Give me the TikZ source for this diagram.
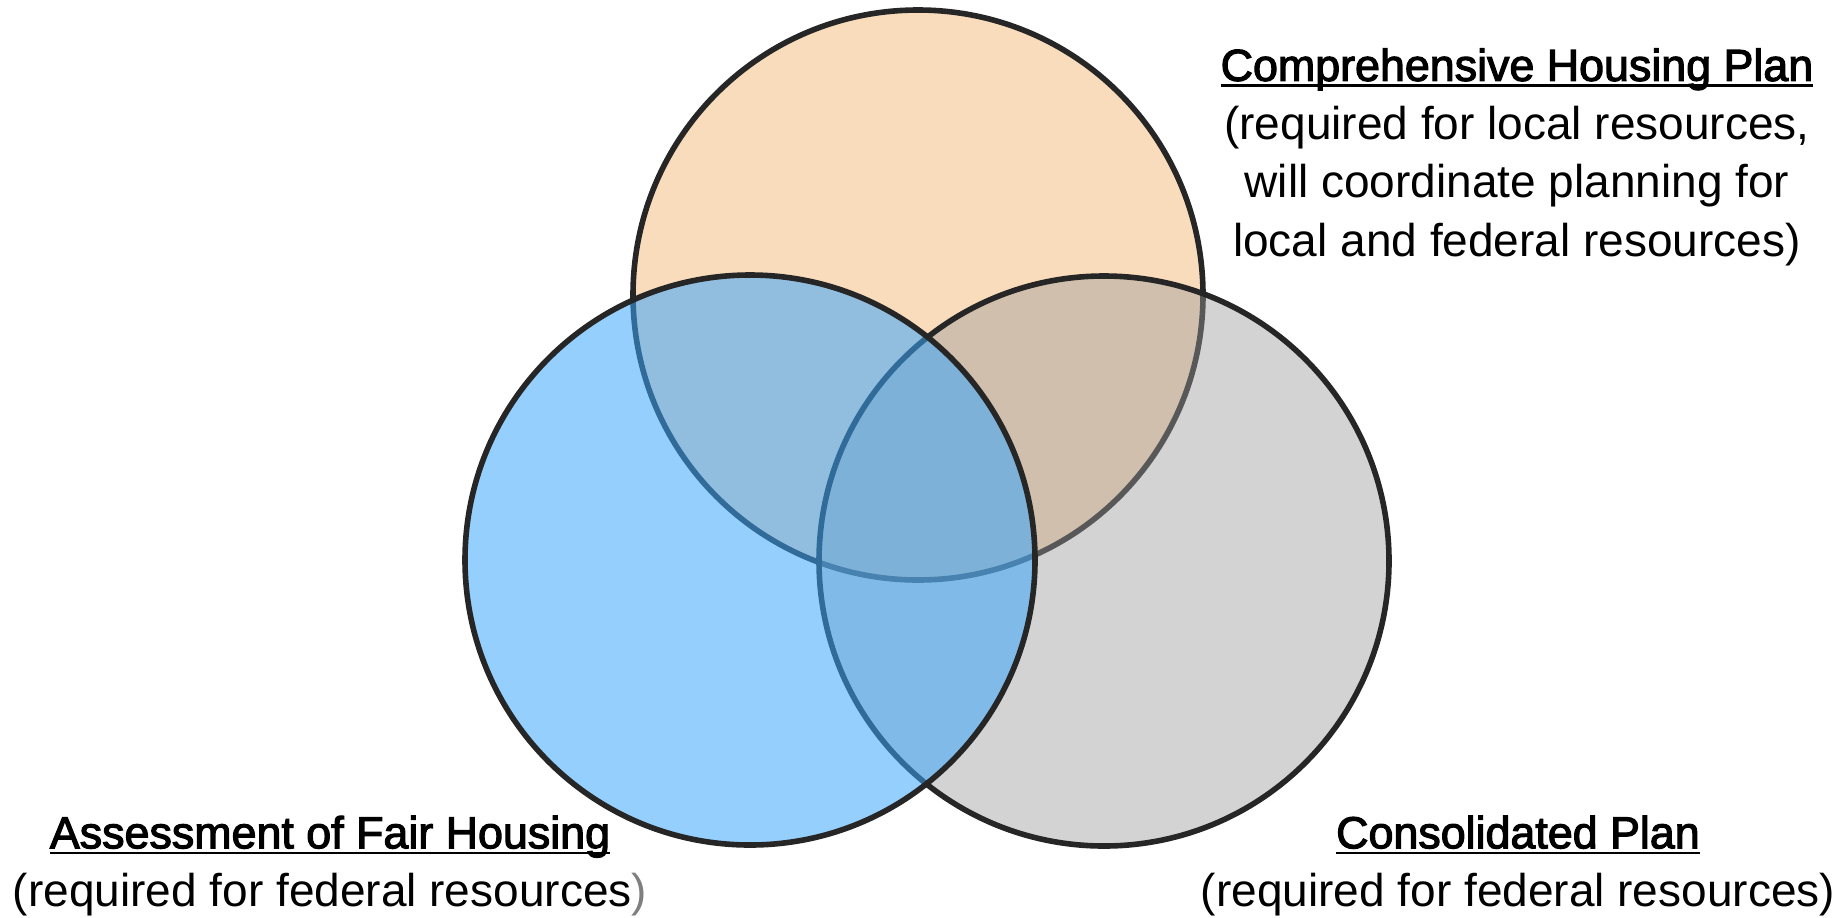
\documentclass[tikz,border=0pt]{standalone}
\usepackage{fontspec}
\setmainfont{Liberation Sans}
\newfontfamily\titlefont[FakeBold=2.6]{Liberation Sans}
\definecolor{orangefill}{HTML}{F9DCBC}
\definecolor{bluefill}{RGB}{57,166,251}
\definecolor{grayfill}{RGB}{154,154,154}
\definecolor{outline}{HTML}{262626}
\definecolor{parengray}{HTML}{7F7F7F}
\tikzset{
  vennset/.style={circle, minimum size=285pt, inner sep=0pt, outer sep=0pt, draw=outline, line width=2.8pt},
  textblock/.style={align=center, inner sep=0pt, text=black, font=\fontsize{23}{29.2}\selectfont}
}
\newcommand{\ttl}[1]{{\titlefont\fontsize{22.4}{29.2}\selectfont\setbox0=\hbox{#1}\rlap{\rule[-3.1pt]{\wd0}{1.3pt}}\box0}}
\begin{document}
\begin{tikzpicture}[x=0.5pt, y=-0.5pt]
\useasboundingbox (0,0) rectangle (1845,917);
\node[vennset, fill=orangefill] (chp) at (918,295) {};
\node[vennset, fill=grayfill, fill opacity=0.43] (con) at (1104,561) {};
\node[vennset, fill=bluefill, fill opacity=0.54] (afh) at (750,560) {};
\node[textblock] (chplabel) at (1517,157) {\ttl{Comprehensive Housing Plan}\\(required for local resources,\\will coordinate planning for\\local and federal resources)};
\node[textblock] (afhlabel) at (330,866) {\ttl{Assessment of Fair Housing}\\(required for federal resources\textcolor{parengray}{)}};
\node[textblock] (conlabel) at (1518,866) {\ttl{Consolidated Plan}\\(required for federal resources)};
\end{tikzpicture}
\end{document}
